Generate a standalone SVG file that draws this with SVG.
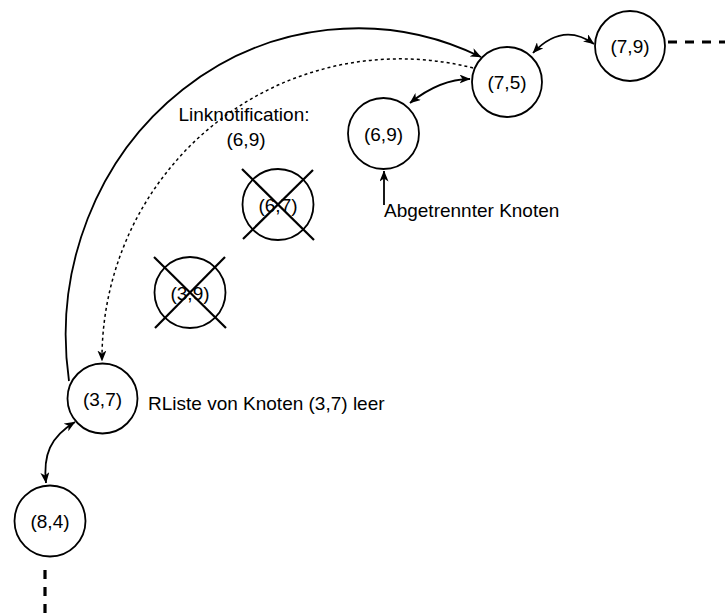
<svg xmlns="http://www.w3.org/2000/svg" width="725" height="614" viewBox="0 0 725 614">
  <style>
    text { font-family: "Liberation Sans", Arial, Helvetica, sans-serif; font-size: 19px; fill: #000; }
    .node circle { fill: #fff; stroke: #000; stroke-width: 1.8; }
    .node text { text-anchor: middle; }
    .cross { stroke: #000; stroke-width: 2.2; stroke-linecap: butt; }
    .edge { fill: none; stroke: #000; stroke-width: 1.8; }
    .dotted { stroke-width: 1.5; stroke-dasharray: 3 3; }
    .cont { fill: none; stroke: #000; stroke-width: 3.2; stroke-dasharray: 9 8; }
  </style>
  <defs>
    <marker id="arrow" viewBox="0 0 11 9" refX="10.5" refY="4.5" markerWidth="11" markerHeight="9" markerUnits="userSpaceOnUse" orient="auto-start-reverse">
      <path d="M0,0 L11,4.5 L0,9 L3,4.5 Z" fill="#000"/>
    </marker>
  </defs>

  <!-- connectors -->
  <g id="connectors">
    <!-- long route (3,7) -> (7,5) -->
    <path class="edge" d="M69,381 A292,307 0 0 1 481,57" marker-end="url(#arrow)"/>
    <!-- link notification (7,5) -> (3,7) -->
    <path class="edge dotted" d="M473,68 A298,300 0 0 0 102,361" marker-end="url(#arrow)"/>
    <!-- neighbour links -->
    <path class="edge" d="M533,53 Q562.5,21.5 594,44" marker-start="url(#arrow)" marker-end="url(#arrow)"/>
    <path class="edge" d="M410,103 Q440,79 470,79" marker-start="url(#arrow)" marker-end="url(#arrow)"/>
    <path class="edge" d="M75,422 C50,437 43,455 46,483" marker-start="url(#arrow)" marker-end="url(#arrow)"/>
    <!-- pointer to the detached node -->
    <path class="edge" d="M384,205 L384,171" marker-end="url(#arrow)"/>
    <!-- ring continues -->
    <path class="cont" d="M668,42 L725,42"/>
    <path class="cont" d="M45,570 L45,614"/>
  </g>

  <g id="n79" class="node">
    <circle cx="630" cy="46" r="35"/>
    <text x="630" y="53">(7,9)</text>
  </g>
  <g id="n75" class="node">
    <circle cx="507" cy="82" r="35"/>
    <text x="507" y="89">(7,5)</text>
  </g>
  <g id="n69" class="node">
    <circle cx="383.5" cy="133.5" r="35.5"/>
    <text x="383.5" y="140.5">(6,9)</text>
  </g>
  <g id="n67" class="node">
    <circle cx="278" cy="204.5" r="35.5"/>
    <text x="278" y="211.5">(6,7)</text>
    <line class="cross" x1="242" y1="169" x2="314" y2="240"/>
    <line class="cross" x1="313" y1="170" x2="243" y2="239"/>
  </g>
  <g id="n39" class="node">
    <circle cx="190" cy="292.5" r="35.5"/>
    <text x="190" y="299.5">(3,9)</text>
    <line class="cross" x1="154" y1="257" x2="226" y2="328"/>
    <line class="cross" x1="225" y1="257" x2="155" y2="328"/>
  </g>
  <g id="n37" class="node">
    <circle cx="102.5" cy="398.5" r="35"/>
    <text x="102.5" y="405.5">(3,7)</text>
  </g>
  <g id="n84" class="node">
    <circle cx="50" cy="521" r="35.5"/>
    <text x="50" y="528">(8,4)</text>
  </g>

  <!-- annotations -->
  <g id="labels">
    <text x="244" y="121" text-anchor="middle">Linknotification:</text>
    <text x="246" y="146" text-anchor="middle">(6,9)</text>
    <text x="384" y="217">Abgetrennter Knoten</text>
    <text x="148" y="410">RListe von Knoten (3,7) leer</text>
  </g>
</svg>
